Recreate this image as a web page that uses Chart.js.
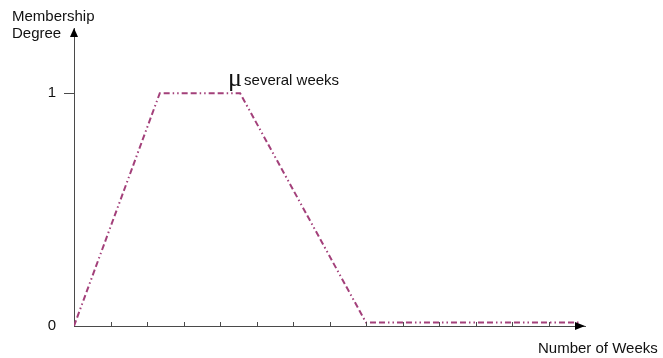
<!DOCTYPE html>
<html>
<head>
<meta charset="utf-8">
<script src="https://cdn.jsdelivr.net/npm/chart.js@4/dist/chart.umd.min.js"></script>
<style>
  html, body { margin: 0; padding: 0; background: #fff; }
  canvas { display: block; }
</style>
</head>
<body>
<canvas id="fuzzyChart" width="663" height="358"></canvas>
<script>
// membership function "several weeks" (trapezoid)
const weeks = [0, 2.35, 4.55, 8, 13.85];
const degree = [0, 1, 1, 0.015, 0.015];
const yTicks = [0, 1];
const xTickWeeks = [1, 2, 3, 4, 5, 6, 7, 8, 9, 10, 11, 12, 13];
const seriesLabel = "several weeks";

const axisColor = "#4a4a4a";
const lineColor = "#a3407a";
const sans = "'Liberation Sans', Arial, sans-serif";

const axesExtras = {
  id: "axesExtras",
  afterDraw(chart) {
    const ctx = chart.ctx;
    const xs = chart.scales.x, ys = chart.scales.y;
    const a = chart.chartArea;
    ctx.save();
    // small tick marks on the x axis, pointing up
    ctx.strokeStyle = axisColor;
    ctx.lineWidth = 1;
    xTickWeeks.forEach(w => {
      const px = Math.round(xs.getPixelForValue(w)) + 0.5;
      ctx.beginPath();
      ctx.moveTo(px, a.bottom);
      ctx.lineTo(px, a.bottom - 4);
      ctx.stroke();
    });
    // arrow heads
    ctx.fillStyle = "#000";
    ctx.beginPath();
    ctx.moveTo(a.left, a.top);
    ctx.lineTo(a.left - 4, a.top + 9);
    ctx.lineTo(a.left + 4, a.top + 9);
    ctx.closePath();
    ctx.fill();
    ctx.beginPath();
    ctx.moveTo(a.right, a.bottom);
    ctx.lineTo(a.right - 10, a.bottom - 4);
    ctx.lineTo(a.right - 10, a.bottom + 4);
    ctx.closePath();
    ctx.fill();
    // axis titles
    ctx.fillStyle = "#111";
    ctx.font = "15px " + sans;
    ctx.textAlign = "left";
    ctx.textBaseline = "alphabetic";
    ctx.fillText("Membership", 12, 21);
    ctx.fillText("Degree", 12, 38);
    ctx.fillText("Number of Weeks", 538, 353);
    // mu label at the top-right corner of the trapezoid
    const lx = xs.getPixelForValue(weeks[2]);
    const ly = ys.getPixelForValue(degree[2]);
    ctx.font = "26px 'Liberation Serif', 'Times New Roman', serif";
    ctx.fillText("\u03bc", lx - 12, ly - 7);
    ctx.font = "15px " + sans;
    ctx.fillText(seriesLabel, lx + 4, ly - 8);
    ctx.restore();
  }
};

new Chart(document.getElementById("fuzzyChart"), {
  type: "line",
  data: {
    datasets: [{
      label: seriesLabel,
      data: weeks.map((w, i) => ({ x: w, y: degree[i] })),
      borderColor: lineColor,
      borderWidth: 2,
      borderDash: [6, 3, 6, 3, 1.5, 3, 1.5, 3],
      pointRadius: 0,
      tension: 0,
      fill: false
    }]
  },
  options: {
    responsive: false,
    animation: false,
    devicePixelRatio: 1,
    layout: { padding: { top: 28, right: 78, left: 0, bottom: 0 } },
    plugins: { legend: { display: false }, tooltip: { enabled: false } },
    scales: {
      x: {
        type: "linear",
        min: 0,
        max: 14,
        ticks: { display: false },
        grid: { display: false },
        border: { display: true, color: axisColor, width: 1 },
        afterFit(s) { s.height = 32; }
      },
      y: {
        min: 0,
        max: 1.28,
        afterBuildTicks(s) { s.ticks = yTicks.map(v => ({ value: v })); },
        ticks: { padding: 8, color: "#111", font: { family: sans, size: 15 } },
        grid: {
          drawOnChartArea: false,
          tickLength: 10,
          color: c => (c.tick && c.tick.value === 0 ? "rgba(0,0,0,0)" : axisColor)
        },
        border: { display: true, color: axisColor, width: 1 },
        afterFit(s) { s.width = 74; }
      }
    }
  },
  plugins: [axesExtras]
});
</script>
</body>
</html>
